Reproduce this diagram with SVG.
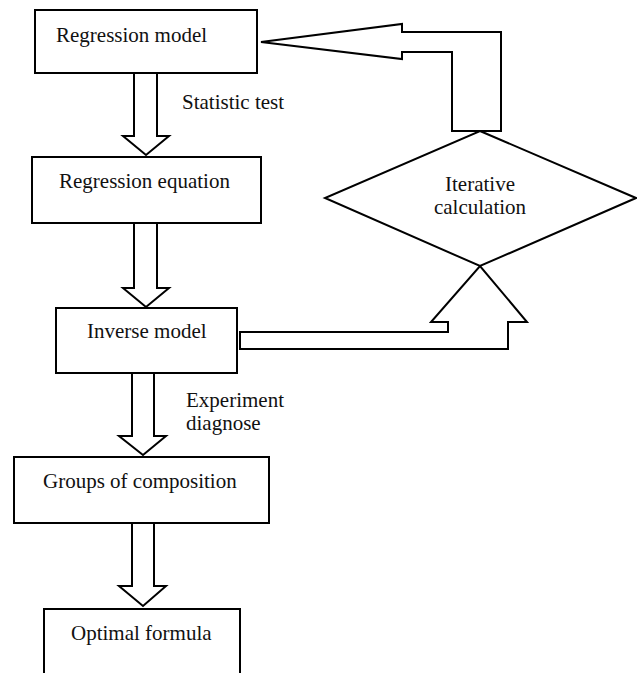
<svg xmlns="http://www.w3.org/2000/svg" width="637" height="673" viewBox="0 0 637 673">
<style>
.box{fill:#fff;stroke:#000;stroke-width:2}
.arr{fill:#fff;stroke:#000;stroke-width:2;stroke-linejoin:miter}
.t{font-family:"Liberation Serif","Times New Roman","DejaVu Serif",serif;font-size:21px;fill:#111}
.c{text-anchor:middle}
</style>
<rect width="637" height="673" fill="#fff"/>
<g id="connectors">
<path class="arr" d="M134,73 V136 H123 L146,155 L169,136 H157 V73 Z"/>
<path class="arr" d="M134,223 V288 H123 L146,307 L169,288 H157 V223 Z"/>
<path class="arr" d="M132,373 V436 H119 L143,455 L166,436 H154 V373 Z"/>
<path class="arr" d="M132,523 V586 H119 L143,606 L166,586 H154 V523 Z"/>
<path class="arr" d="M452,131 V52 H402 V59 L261,42 L402,24 V32 H501 V131 Z"/>
<path class="arr" d="M240,332 H448 V322 H431 L480,266 L527,322 H508 V349 H240 Z"/>
</g>
<g id="regression-model">
<rect class="box" x="35" y="10" width="222" height="63"/>
<text class="t" x="56" y="42">Regression model</text>
</g>
<g id="statistic-test">
<text class="t" x="182" y="109">Statistic test</text>
</g>
<g id="regression-equation">
<rect class="box" x="32" y="157" width="229" height="66"/>
<text class="t" x="59" y="188">Regression equation</text>
</g>
<g id="iterative-calculation">
<polygon class="box" points="480,131 636,198 480,266 325,198"/>
<text class="t c" x="480" y="191">Iterative</text>
<text class="t c" x="480" y="214">calculation</text>
</g>
<g id="inverse-model">
<rect class="box" x="56" y="308" width="181" height="65"/>
<text class="t" x="87" y="338">Inverse model</text>
</g>
<g id="experiment-diagnose">
<text class="t" x="186" y="407">Experiment</text>
<text class="t" x="186" y="430">diagnose</text>
</g>
<g id="groups-of-composition">
<rect class="box" x="14" y="457" width="255" height="66"/>
<text class="t" x="43" y="488">Groups of composition</text>
</g>
<g id="optimal-formula">
<path class="box" d="M44,675 V609 H240 V675"/>
<text class="t" x="71" y="640">Optimal formula</text>
</g>
</svg>
